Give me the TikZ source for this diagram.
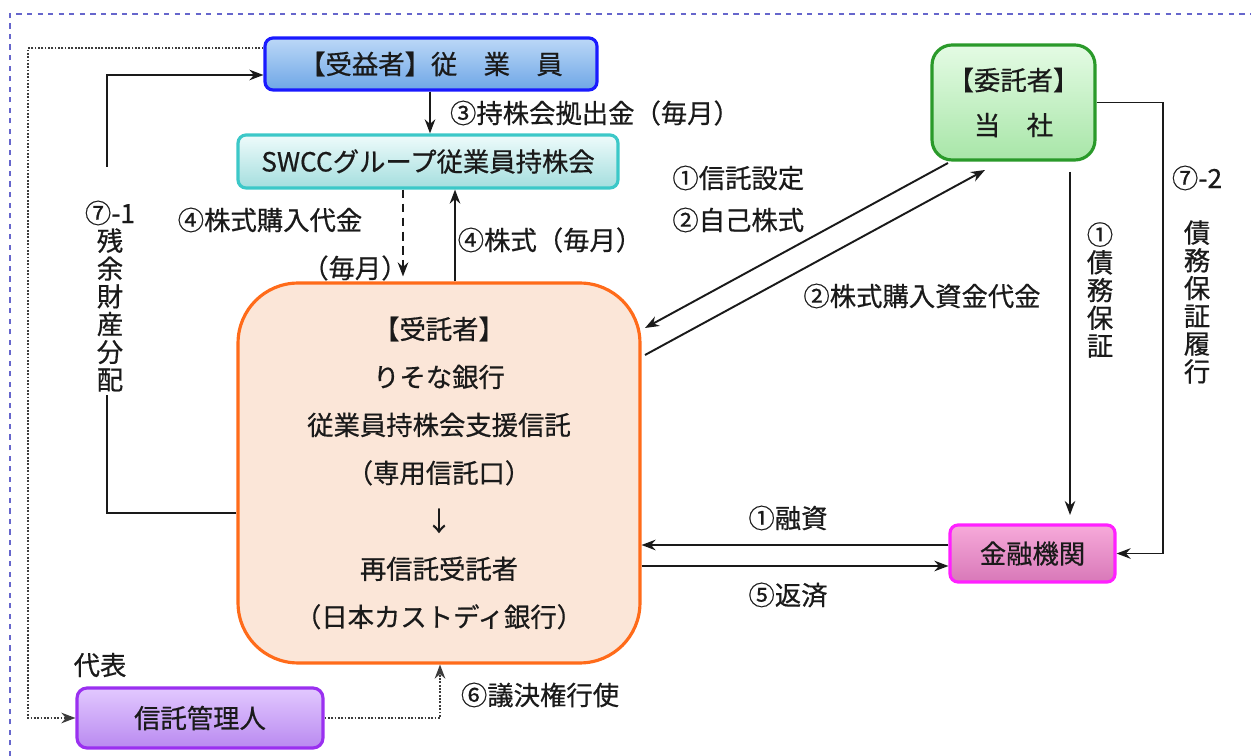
\documentclass[tikz,border=0pt]{standalone}
\usepackage{fontspec}
\setmainfont{Noto Sans CJK JP}[FakeBold=0.6]
\usetikzlibrary{arrows.meta}
\definecolor{txt}{HTML}{1A1A1A}
\definecolor{juekiB}{HTML}{1A1AFF}
\definecolor{juekiT}{HTML}{BCD8F7}
\definecolor{juekiU}{HTML}{6EA6E6}
\definecolor{swccB}{HTML}{3CC8C8}
\definecolor{swccT}{HTML}{EEFBFB}
\definecolor{swccU}{HTML}{A4DEDE}
\definecolor{itakuB}{HTML}{2A9A2A}
\definecolor{itakuT}{HTML}{E4FBE4}
\definecolor{itakuU}{HTML}{A8E6A8}
\definecolor{kinyuB}{HTML}{FF20FF}
\definecolor{kinyuT}{HTML}{F7AADA}
\definecolor{kinyuU}{HTML}{D878B8}
\definecolor{kanriB}{HTML}{9A30F0}
\definecolor{kanriT}{HTML}{E2C8FF}
\definecolor{kanriU}{HTML}{B98AF0}
\definecolor{jutakuB}{HTML}{FF6B1A}
\definecolor{jutakuF}{HTML}{FBE6D8}
\definecolor{frameC}{HTML}{6666CC}
\begin{document}
\begin{tikzpicture}[x=0.02cm,y=-0.02cm,
  conn/.style={line width=1.1pt, draw=txt},
  arr/.style={conn, -{Stealth[length=8pt,width=6pt]}},
  dotarr/.style={line width=1.2pt, draw=txt!85, dash pattern=on 1pt off 0.9pt, -{Stealth[length=8pt,width=6pt]}},
  dasharr/.style={line width=1.1pt, draw=txt, dash pattern=on 5pt off 3pt, -{Stealth[length=8pt,width=6pt]}},
  box/.style={line width=1.8pt, text=txt, font=\fontsize{15}{18}\selectfont, inner sep=0pt},
  lbl/.style={text=txt, font=\fontsize{15}{18}\selectfont, inner sep=0pt},
  vert/.style={text=txt, font=\fontsize{15}{15.8}\selectfont, inner sep=0pt, align=center}]
\useasboundingbox (0,0) rectangle (1251,756);
\draw[frameC, dashed, line width=0.8pt] (10,756) -- (10,14) -- (1251,14);

% nodes
\node[box, draw=juekiB, top color=juekiT, bottom color=juekiU, rounded corners=0.16cm,
  minimum width=6.64cm, minimum height=1.04cm] (jueki) at (431,64) {【受益者】従　業　員};
\node[box, draw=swccB, top color=swccT, bottom color=swccU, rounded corners=0.16cm,
  minimum width=7.6cm, minimum height=1.06cm] (swcc) at (428,161.5) {SWCCグループ従業員持株会};
\node[box, draw=itakuB, top color=itakuT, bottom color=itakuU, rounded corners=0.4cm,
  minimum width=3.26cm, minimum height=2.3cm, align=center, font=\fontsize{15}{25.6}\selectfont] (itaku) at (1013.5,102.5) {【委託者】\\当　社};
\node[box, draw=jutakuB, fill=jutakuF, rounded corners=1.2cm,
  minimum width=8.04cm, minimum height=7.6cm, align=center, font=\fontsize{15}{27.3}\selectfont] (jutaku) at (439,473)
  {【受託者】\\りそな銀行\\従業員持株会支援信託\\（専用信託口）\\↓\\再信託受託者\\（日本カストディ銀行）};
\node[box, draw=kinyuB, top color=kinyuT, bottom color=kinyuU, rounded corners=0.16cm,
  minimum width=3.3cm, minimum height=1.14cm] (kinyu) at (1032.5,553.5) {金融機関};
\node[box, draw=kanriB, top color=kanriT, bottom color=kanriU, rounded corners=0.2cm,
  minimum width=4.92cm, minimum height=1.2cm] (kanri) at (200,718) {信託管理人};

% helper coordinates
\coordinate (xa) at (403,0);
\coordinate (xb) at (455,0);
\coordinate (xh) at (430,0);
\coordinate (xd) at (1163,0);
\coordinate (xf) at (28,0);
\coordinate (xg) at (440,0);
\coordinate (ya) at (0,545);
\coordinate (yb) at (0,566);
\coordinate (yc) at (0,513);
\coordinate (yd) at (0,75);
\coordinate (ye) at (0,48);
\coordinate (g1) at (107,395);
\coordinate (g2) at (107,167);
\coordinate (ca) at (948,163);
\coordinate (cb) at (645,328);
\coordinate (cc) at (645,355);
\coordinate (cd) at (985,170);
\coordinate (ce) at (1070,172);
\coordinate (cf) at (1070,515);

% connectors
\draw[arr] (jueki.south -| xh) -- (swcc.north -| xh);
\draw[dasharr] (swcc.south -| xa) -- ([yshift=0.1cm]jutaku.north -| xa);
\draw[arr] (jutaku.north -| xb) -- (swcc.south -| xb);
\draw[arr] (ca) -- (cb);
\draw[arr] (cc) -- (cd);
\draw[arr] (ce) -- (cf);
\draw[arr] (itaku.east) -| (xd |- kinyu.east) -- (kinyu.east);
\draw[arr] (kinyu.west |- ya) -- (jutaku.east |- ya);
\draw[arr] (jutaku.east |- yb) -- (kinyu.west |- yb);
\draw[conn] (jutaku.west |- yc) -| (g1);
\draw[arr] (g2) |- (jueki.west |- yd);
\draw[dotarr] (jueki.west |- ye) -| (xf |- kanri.west) -- (kanri.west);
\draw[dotarr] (kanri.east) -| (jutaku.south -| xg);

% labels
\node[lbl] (l3) at (595,113) {③持株会拠出金（毎月）};
\node[lbl] (l4a) at (270,220) {④株式購入代金};
\node[lbl] (l4b) at (355,268) {（毎月）};
\node[lbl] (l4c) at (550,240) {④株式（毎月）};
\node[lbl, anchor=west] (l1a) at (672,178) {①信託設定};
\node[lbl, anchor=west] (l2a) at (672,220) {②自己株式};
\node[lbl] (l2b) at (922,296) {②株式購入資金代金};
\node[vert] (l1b) at (1100,290) {①\\債\\務\\保\\証};
\node[lbl] (l72) at (1197,178) {⑦-2};
\node[vert] (l72b) at (1197,302) {債\\務\\保\\証\\履\\行};
\node[lbl] (l71) at (110,213) {⑦-1};
\node[vert] (l71b) at (110,310) {残\\余\\財\\産\\分\\配};
\node[lbl] (l1c) at (788,518) {①融資};
\node[lbl] (l5) at (788,595) {⑤返済};
\node[lbl] (l6) at (540,695) {⑥議決権行使};
\node[lbl] (ldai) at (100,665) {代表};
\end{tikzpicture}
\end{document}
